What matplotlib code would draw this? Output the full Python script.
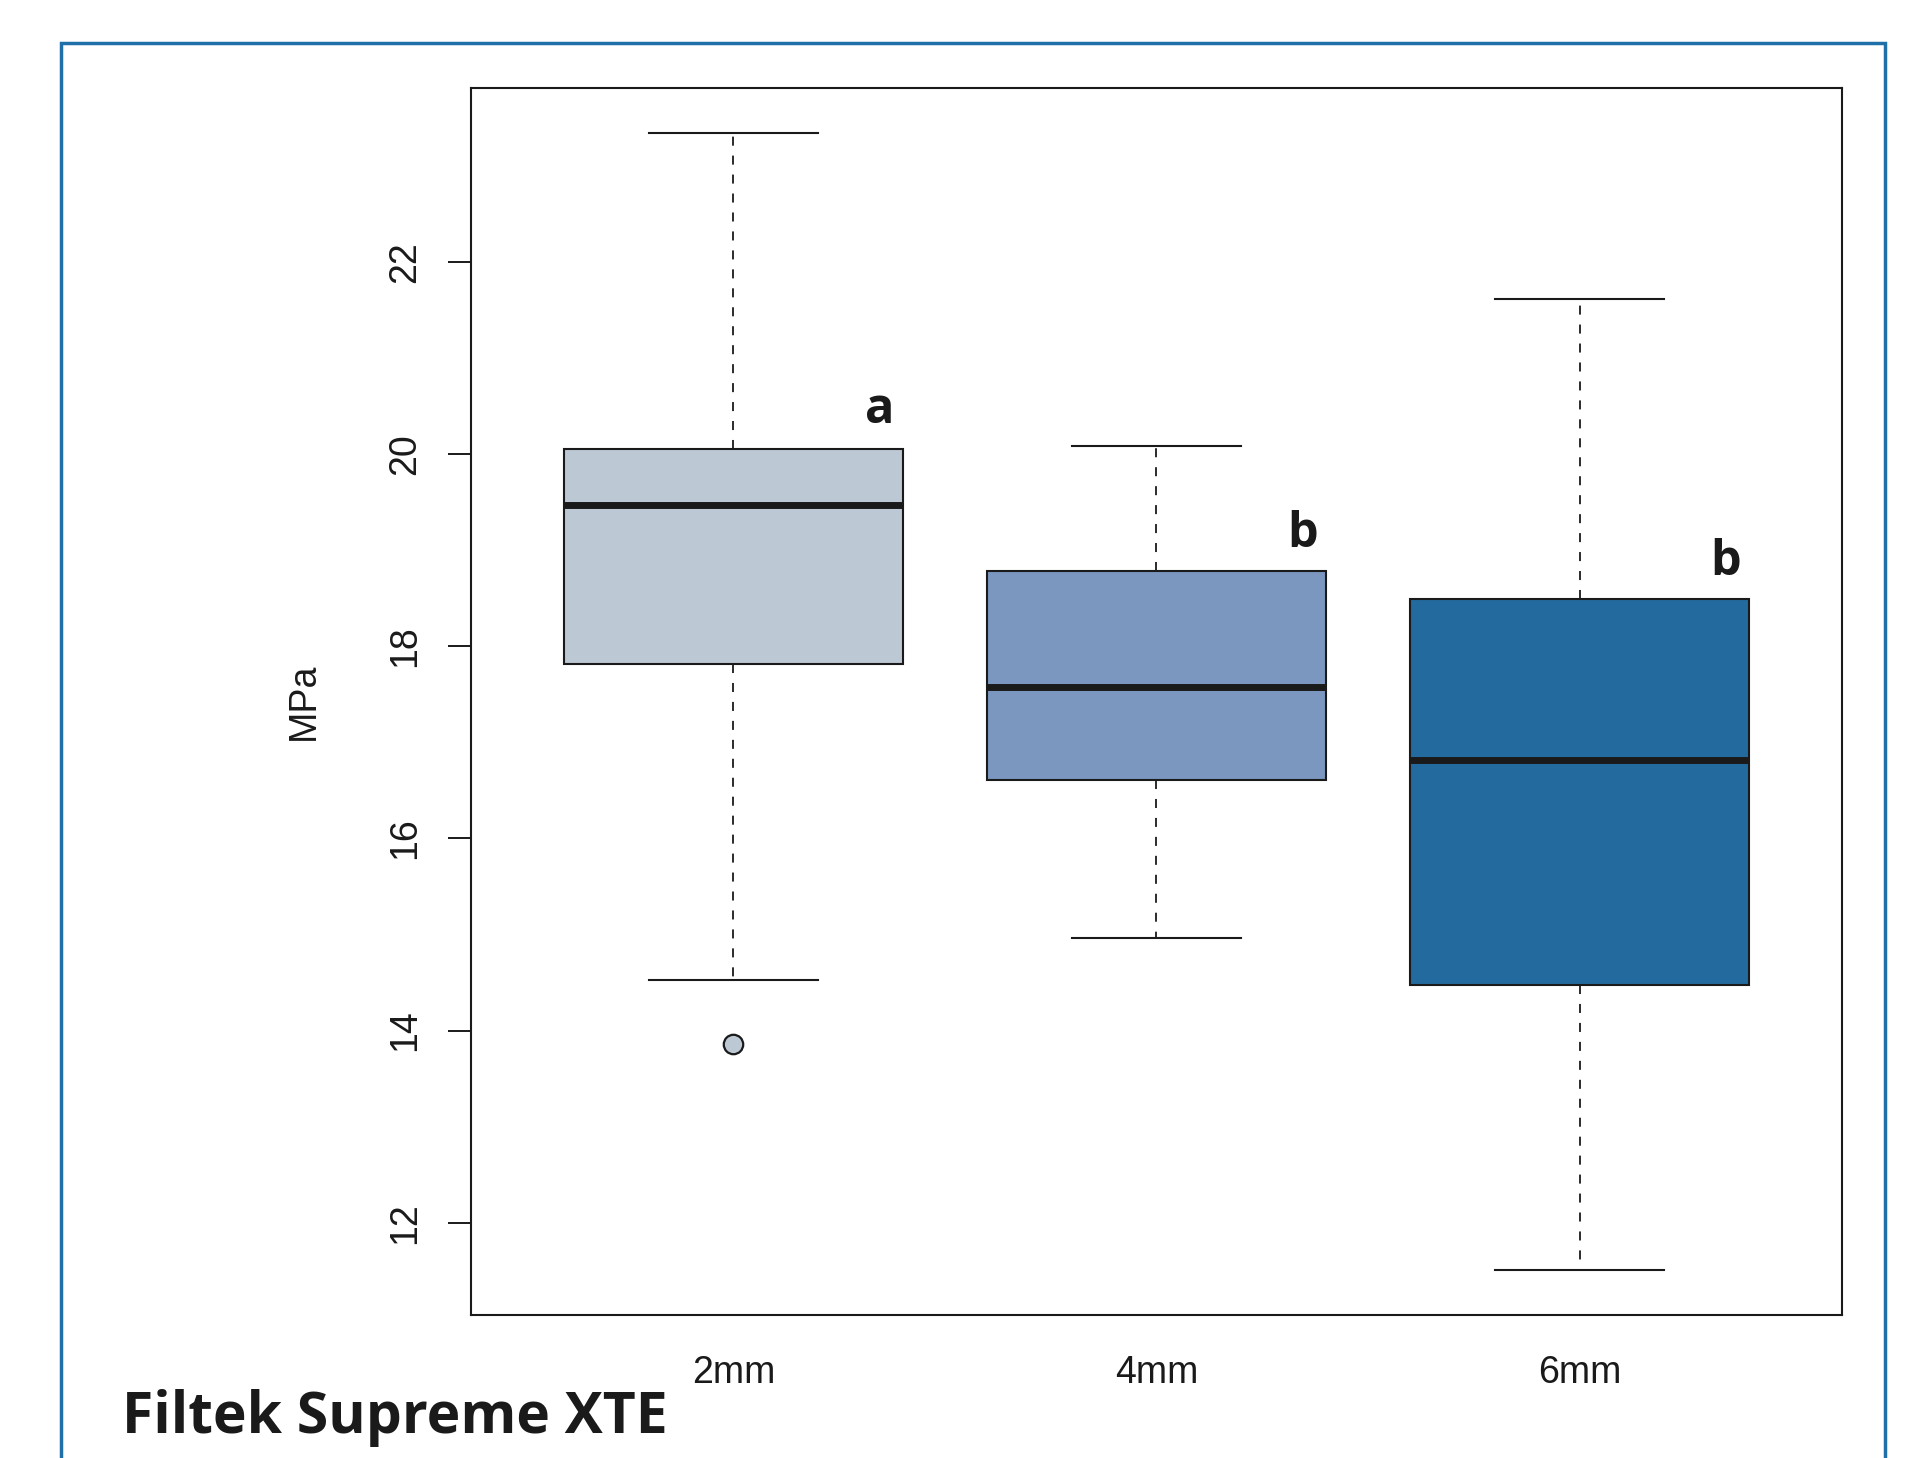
import numpy as np
import matplotlib.pyplot as plt
from matplotlib.patches import Rectangle

#------------------------------------------------Data

groups = ['2mm', '4mm', '6mm']
whisk_lo = [14.53, 14.96, 11.51]
q1 = [17.82, 16.61, 14.47]
med = [19.47, 17.58, 16.82]
q3 = [20.05, 18.78, 18.49]
whisk_hi = [23.34, 20.08, 21.61]
outliers = [[13.86], [], []]
box_colors = ['#bcc8d4', '#7b97bf', '#236b9e']

letters = ['a', 'b', 'b']
letter_y = [20.32, 19.03, 18.74]

yticks = [12, 14, 16, 18, 20, 22]

#------------------------------------------------Figure

W, H = 1908, 1458
fig = plt.figure(figsize=(W / 100, H / 100), dpi=100)
fig.patch.set_facecolor('white')

# blue frame around the panel
frame = Rectangle((61 / W, -0.05), (1885 - 61) / W, 1 - 43 / H + 0.05,
                  transform=fig.transFigure, fill=False,
                  edgecolor='#1f6fa8', linewidth=2.5, clip_on=False)
fig.patches.append(frame)

ax = fig.add_axes([471 / W, 1 - 1315 / H, (1842 - 471) / W, (1315 - 88) / H])

stats = []
for i, g in enumerate(groups):
    stats.append(dict(label=g, whislo=whisk_lo[i], q1=q1[i], med=med[i],
                      q3=q3[i], whishi=whisk_hi[i], fliers=outliers[i]))

bp = ax.bxp(stats, positions=[1, 2, 3], widths=0.8, patch_artist=True,
            boxprops=dict(edgecolor='#1a1a1a', linewidth=1.5),
            medianprops=dict(color='#1a1a1a', linewidth=5, solid_capstyle='butt'),
            whiskerprops=dict(color='#1a1a1a', linewidth=1.3, linestyle=(0, (5, 5.5))),
            capprops=dict(color='#1a1a1a', linewidth=1.5),
            capwidths=0.4,
            flierprops=dict(marker='o', markersize=14, markeredgecolor='#1a1a1a',
                            markeredgewidth=1.6))
for patch, c in zip(bp['boxes'], box_colors):
    patch.set_facecolor(c)
for fl, c in zip(bp['fliers'], box_colors):
    fl.set_markerfacecolor(c)

for i, l in enumerate(letters):
    ax.text(i + 1.345, letter_y[i], l, ha='center', va='baseline',
            fontsize=35, fontweight='bold', family='Open Sans', color='#1a1a1a')

ax.set_xlim(0.38, 3.62)
ax.set_ylim(11.04, 23.81)
ax.set_yticks(yticks)
ax.set_yticklabels([str(t) for t in yticks])
ax.tick_params(axis='y', length=16.5, width=1.4, pad=18, labelsize=27,
               color='#1a1a1a', labelcolor='#1a1a1a')
ax.tick_params(axis='x', length=0, pad=29, labelsize=27, labelcolor='#1a1a1a')
for lab in ax.get_yticklabels():
    lab.set_rotation(90)
    lab.set_va('center')
    lab.set_family('Liberation Sans')
for lab in ax.get_xticklabels():
    lab.set_family('Liberation Sans')

for s in ax.spines.values():
    s.set_linewidth(1.5)
    s.set_color('#1a1a1a')

ax.set_ylabel('MPa', fontsize=27, family='Liberation Sans', color='#1a1a1a')
ax.yaxis.set_label_coords((322 - 471) / 1371, 0.5)

fig.text(122 / W, 1 - 1433 / H, 'Filtek Supreme XTE', fontsize=41,
         fontweight='bold', family='Open Sans', color='#1a1a1a',
         ha='left', va='baseline')

plt.savefig('out.png', dpi=100)
